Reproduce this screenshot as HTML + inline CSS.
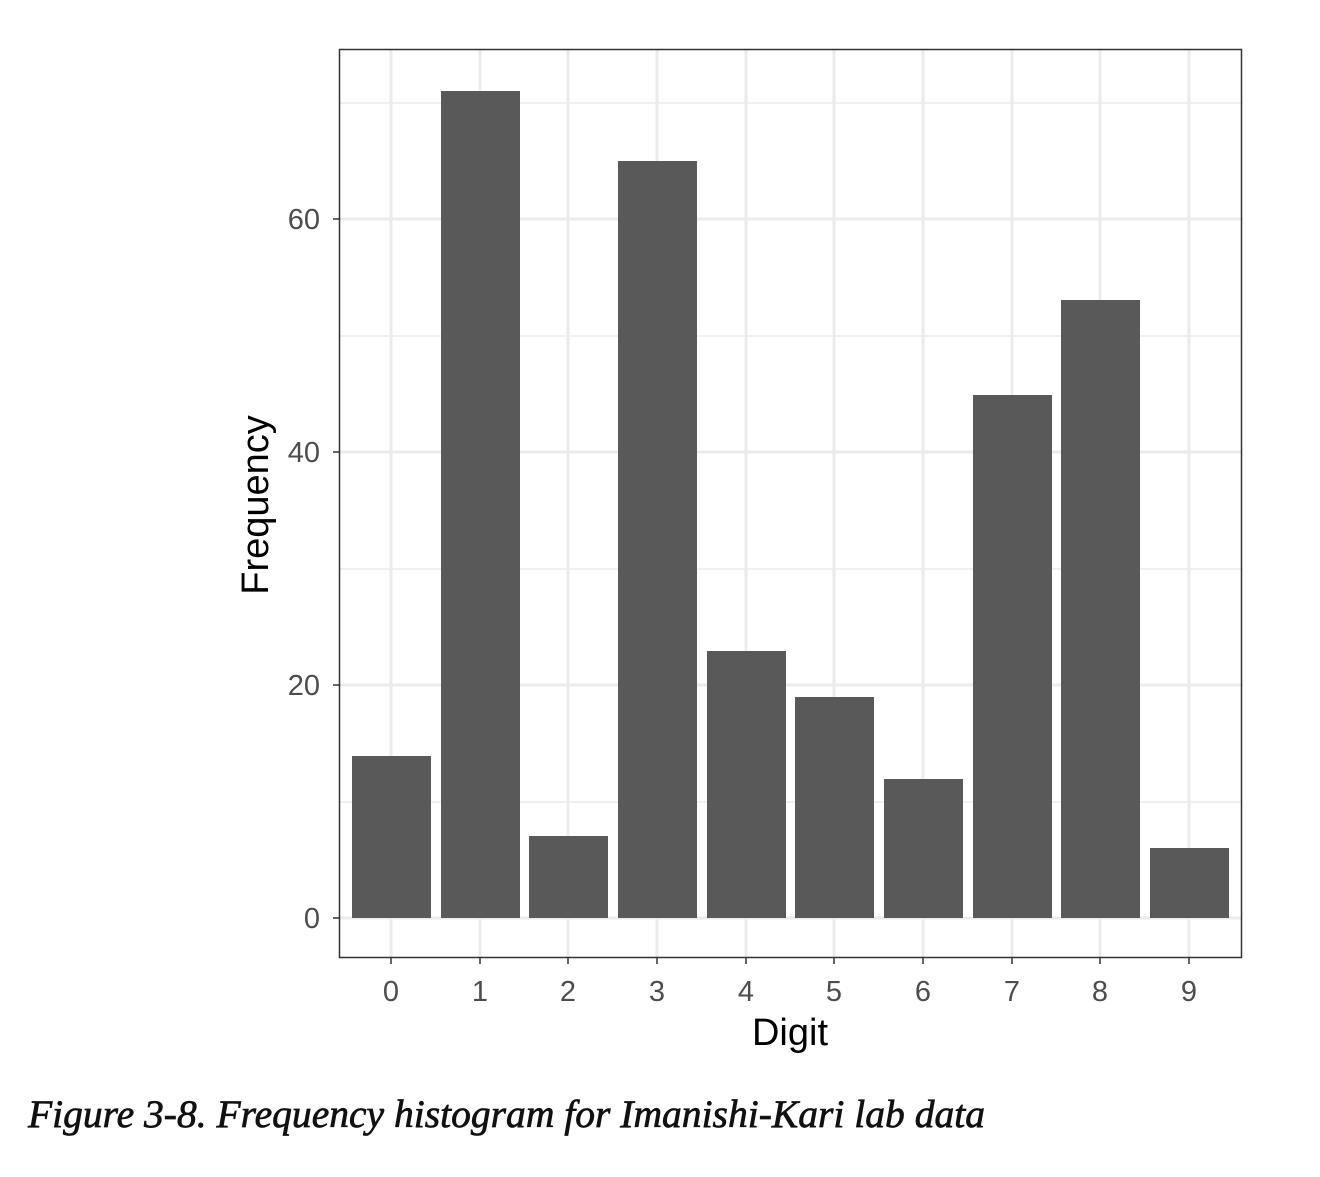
<!DOCTYPE html>
<html><head><meta charset="utf-8"><style>body{margin:0;background:#fff}</style></head>
<body>
<svg width="1320" height="1172" xmlns="http://www.w3.org/2000/svg" font-family="Liberation Sans, sans-serif">
<rect width="1320" height="1172" fill="#fff"/>
<g stroke="#ebebeb" stroke-width="1.5">
<line x1="339" x2="1242" y1="802" y2="802"/><line x1="339" x2="1242" y1="569" y2="569"/>
<line x1="339" x2="1242" y1="336" y2="336"/><line x1="339" x2="1242" y1="103" y2="103"/>
</g>
<g stroke="#ebebeb" stroke-width="3">
<line x1="339" x2="1242" y1="918" y2="918"/><line x1="339" x2="1242" y1="685" y2="685"/>
<line x1="339" x2="1242" y1="452" y2="452"/><line x1="339" x2="1242" y1="219" y2="219"/>
<line y1="49" y2="958" x1="391" x2="391"/><line y1="49" y2="958" x1="480" x2="480"/>
<line y1="49" y2="958" x1="568" x2="568"/><line y1="49" y2="958" x1="657" x2="657"/>
<line y1="49" y2="958" x1="746" x2="746"/><line y1="49" y2="958" x1="834" x2="834"/>
<line y1="49" y2="958" x1="923" x2="923"/><line y1="49" y2="958" x1="1012" x2="1012"/>
<line y1="49" y2="958" x1="1100" x2="1100"/><line y1="49" y2="958" x1="1189" x2="1189"/>
</g>
<g fill="#595959">
<rect x="352" y="756" width="79" height="162"/>
<rect x="441" y="91" width="79" height="827"/>
<rect x="529" y="836" width="79" height="82"/>
<rect x="618" y="161" width="79" height="757"/>
<rect x="707" y="651" width="79" height="267"/>
<rect x="795" y="697" width="79" height="221"/>
<rect x="884" y="779" width="79" height="139"/>
<rect x="973" y="395" width="79" height="523"/>
<rect x="1061" y="300" width="79" height="618"/>
<rect x="1150" y="848" width="79" height="70"/>
</g>
<rect x="339.5" y="49.5" width="902" height="908" fill="none" stroke="#333" stroke-width="1.5"/>
<g stroke="#333" stroke-width="1.5">
<line x1="333" x2="339" y1="918" y2="918"/><line x1="333" x2="339" y1="685" y2="685"/>
<line x1="333" x2="339" y1="452" y2="452"/><line x1="333" x2="339" y1="219" y2="219"/>
<line y1="958" y2="964" x1="391" x2="391"/><line y1="958" y2="964" x1="480" x2="480"/>
<line y1="958" y2="964" x1="568" x2="568"/><line y1="958" y2="964" x1="657" x2="657"/>
<line y1="958" y2="964" x1="746" x2="746"/><line y1="958" y2="964" x1="834" x2="834"/>
<line y1="958" y2="964" x1="923" x2="923"/><line y1="958" y2="964" x1="1012" x2="1012"/>
<line y1="958" y2="964" x1="1100" x2="1100"/><line y1="958" y2="964" x1="1189" x2="1189"/>
</g>
<g fill="#4d4d4d" font-size="29" text-anchor="end">
<text x="320" y="928">0</text><text x="320" y="695">20</text><text x="320" y="462">40</text><text x="320" y="229">60</text>
</g>
<g fill="#4d4d4d" font-size="29" text-anchor="middle">
<text x="391" y="1001">0</text><text x="480" y="1001">1</text><text x="568" y="1001">2</text><text x="657" y="1001">3</text><text x="746" y="1001">4</text><text x="834" y="1001">5</text><text x="923" y="1001">6</text><text x="1012" y="1001">7</text><text x="1100" y="1001">8</text><text x="1189" y="1001">9</text>
</g>
<text x="790" y="1045" font-size="38" text-anchor="middle" fill="#000">Digit</text>
<text transform="translate(268,505) rotate(-90)" font-size="38" text-anchor="middle" fill="#000">Frequency</text>
<text x="28" y="1127" font-family="Liberation Serif, serif" font-style="italic" font-size="39" fill="#111" stroke="#111" stroke-width="0.7" textLength="957" lengthAdjust="spacingAndGlyphs">Figure 3-8. Frequency histogram for Imanishi-Kari lab data</text>
</svg>
</body></html>
